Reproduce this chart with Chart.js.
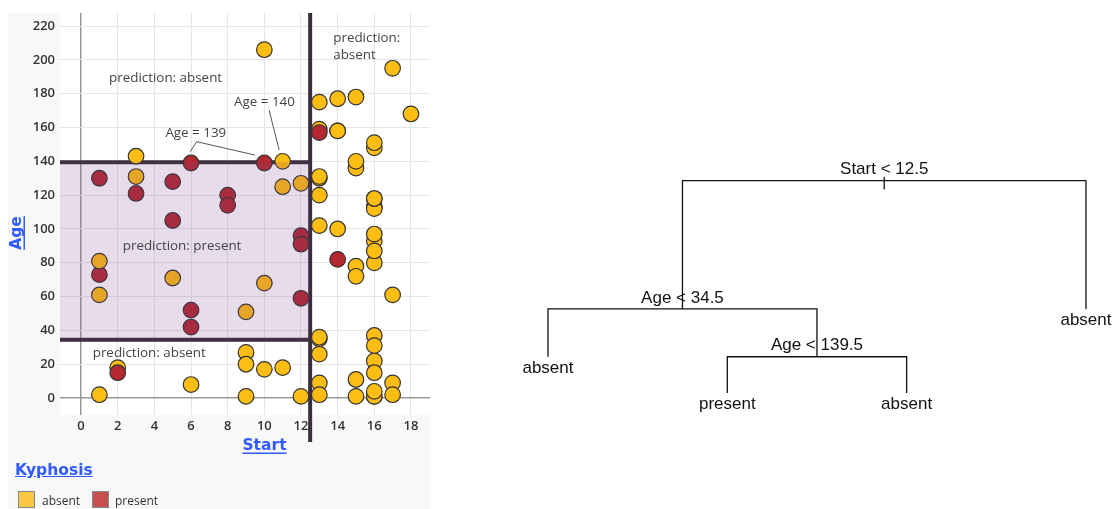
<!DOCTYPE html>
<html>
<head>
<meta charset="utf-8">
<title>Kyphosis - classification tree</title>
<script src="https://cdn.jsdelivr.net/npm/chart.js@4.4.1/dist/chart.umd.min.js"></script>
<style>
  body { margin: 0; background: #fff; }
  #page { position: relative; width: 1117px; height: 509px; overflow: hidden; }
  #panel { position: absolute; left: 8px; top: 13px; width: 422px; height: 496px; background: #f8f8f8; }
  #scatterBox { position: absolute; left: 0; top: 0; width: 422px; height: 450px; }
  #treeBox { position: absolute; left: 440px; top: 0; width: 677px; height: 509px; }
  .legend-title { position: absolute; left: 7px; top: 448px; line-height: 18px; font: bold 15.5px "DejaVu Sans", sans-serif; color: #2f5bff; text-decoration: underline; }
  .swatch { position: absolute; top: 478px; width: 15px; height: 15px; border: 1px solid #7d8a96; }
  .legend-text { position: absolute; top: 479px; line-height: 14px; font: 12px "Open Sans", sans-serif; color: #333; }
</style>
</head>
<body>
<div id="page">
  <div id="panel">
    <div id="scatterBox"><canvas id="scatterChart"></canvas></div>
    <div class="legend-title">Kyphosis</div>
    <div class="swatch" style="left:10px; background:#fbc641;"></div>
    <div class="legend-text" style="left:34px;">absent</div>
    <div class="swatch" style="left:84px; background:#c6504f;"></div>
    <div class="legend-text" style="left:107px;">present</div>
  </div>
  <div id="treeBox"><canvas id="treeChart"></canvas></div>
</div>
<script>
// Kyphosis data: one entry per child
const kyphosis = [
  'absent', 'absent', 'present', 'absent', 'absent', 'absent', 'absent', 'absent', 'absent', 'present',
  'present', 'absent', 'absent', 'absent', 'absent', 'absent', 'absent', 'absent', 'absent', 'absent',
  'absent', 'present', 'present', 'absent', 'present', 'absent', 'absent', 'absent', 'absent', 'absent',
  'absent', 'absent', 'absent', 'absent', 'absent', 'absent', 'absent', 'present', 'absent', 'present',
  'present', 'absent', 'absent', 'absent', 'absent', 'present', 'absent', 'absent', 'present', 'absent',
  'absent', 'absent', 'present', 'absent', 'absent', 'absent', 'absent', 'present', 'absent', 'absent',
  'present', 'present', 'absent', 'absent', 'absent', 'absent', 'absent', 'absent', 'absent', 'absent',
  'absent', 'absent', 'absent', 'absent', 'absent', 'absent', 'present', 'absent', 'absent', 'present',
  'absent'
];
const age = [
  71, 158, 128, 2, 1, 1, 61, 37, 113, 59,
  82, 148, 18, 1, 168, 1, 78, 175, 80, 27,
  22, 105, 96, 131, 15, 9, 8, 100, 4, 151,
  31, 125, 130, 112, 140, 93, 1, 52, 20, 91,
  73, 35, 143, 61, 97, 139, 136, 131, 121, 177,
  68, 9, 139, 2, 140, 72, 2, 120, 51, 102,
  130, 114, 81, 118, 118, 17, 195, 159, 18, 15,
  158, 127, 87, 206, 11, 178, 157, 26, 120, 42,
  36
];
const start = [
  5, 14, 5, 1, 15, 16, 17, 16, 16, 12,
  14, 16, 2, 12, 18, 16, 15, 13, 16, 9,
  16, 5, 12, 3, 2, 13, 6, 14, 16, 16,
  16, 11, 13, 16, 11, 16, 9, 6, 9, 12,
  1, 13, 3, 1, 16, 10, 15, 13, 3, 14,
  10, 17, 6, 17, 15, 15, 13, 8, 9, 13,
  1, 8, 1, 16, 16, 10, 17, 13, 11, 16,
  14, 12, 16, 10, 15, 15, 13, 13, 13, 6,
  13
];

// Axis ticks
const startTicks = [0, 2, 4, 6, 8, 10, 12, 14, 16, 18];
const ageTicks = [0, 20, 40, 60, 80, 100, 120, 140, 160, 180, 200, 220];

// Tree splits
const startSplit = 12.5;
const ageSplits = [34.5, 139.5];

// Fitted tree (rpart node ids: children of n are 2n and 2n+1)
const treeNodes = [1, 2, 3, 4, 5, 10, 11];
const treeLabels = ['Start < 12.5', 'Age < 34.5', 'absent', 'absent', 'Age < 139.5', 'present', 'absent'];
const treeHeights = [1, 0.396, 0.396, 0.171, 0.171, 0, 0];

const gold = '#fdbd13';
const red = '#b3292f';
const tickFont = { family: 'Open Sans', size: 13, weight: '600' };
const noPadding = () => ({ left: 0, top: 0, right: 0, bottom: 0 });

// Scatter plot ---------------------------------------------------------

const notes = [
  { text: 'prediction: absent', x: 4.61, y: 189, align: 'center' },
  { text: 'Age = 140', x: 10.01, y: 175.2, align: 'center' },
  { text: 'Age = 139', x: 6.26, y: 156.5, align: 'center' },
  { text: 'prediction:', x: 13.76, y: 212.7, align: 'left' },
  { text: 'absent', x: 13.76, y: 202.8, align: 'left' },
  { text: 'prediction: present', x: 5.51, y: 89.6, align: 'center' },
  { text: 'prediction: absent', x: 3.72, y: 26.4, align: 'center' }
];
const leaders = [
  [[10.26, 170.3], [10.81, 146.6]],
  [[5.95, 145.7], [6.31, 151.6], [9.49, 143.7]]
];

function underlined(ctx, text, x, y) {
  const w = ctx.measureText(text).width;
  ctx.fillText(text, x, y);
  ctx.fillRect(x - w / 2, y + 7, w, 1.5);
}

const regionPlugin = {
  id: 'regions',
  beforeDraw(chart) {
    const { ctx, chartArea: a } = chart;
    ctx.save();
    ctx.fillStyle = '#fff';
    ctx.fillRect(a.left, a.top, a.width, a.height);
    ctx.restore();
  },
  beforeDatasetsDraw(chart) {
    const { ctx, chartArea: a, scales: { x, y } } = chart;
    const xs = x.getPixelForValue(startSplit);
    ctx.save();
    ctx.strokeStyle = '#3a2d3c';
    ctx.lineWidth = 4;
    ctx.beginPath();
    ctx.moveTo(xs, a.top);
    ctx.lineTo(xs, a.bottom + 27);
    ageSplits.forEach(v => {
      const yp = y.getPixelForValue(v);
      ctx.moveTo(a.left, yp);
      ctx.lineTo(xs + 2, yp);
    });
    ctx.stroke();
    ctx.restore();
  },
  afterDatasetsDraw(chart) {
    const { ctx, chartArea: a, scales: { x, y } } = chart;
    const xs = x.getPixelForValue(startSplit);
    const y1 = y.getPixelForValue(ageSplits[1]);
    const y0 = y.getPixelForValue(ageSplits[0]);
    ctx.save();
    // predicted "present" region
    ctx.fillStyle = 'rgba(120, 60, 140, 0.18)';
    ctx.fillRect(a.left, y1, xs - a.left, y0 - y1);

    // leader lines
    ctx.strokeStyle = '#555';
    ctx.lineWidth = 1;
    leaders.forEach(pts => {
      ctx.beginPath();
      pts.forEach(([px, py], i) => {
        const X = x.getPixelForValue(px), Y = y.getPixelForValue(py);
        i ? ctx.lineTo(X, Y) : ctx.moveTo(X, Y);
      });
      ctx.stroke();
    });

    // notes
    ctx.fillStyle = '#444';
    ctx.font = '13.4px "Open Sans"';
    ctx.textBaseline = 'middle';
    notes.forEach(n => {
      ctx.textAlign = n.align;
      ctx.fillText(n.text, x.getPixelForValue(n.x), y.getPixelForValue(n.y));
    });

    // axis titles
    ctx.fillStyle = '#2f5bff';
    ctx.font = 'bold 15.5px "DejaVu Sans"';
    ctx.textAlign = 'center';
    underlined(ctx, 'Start', a.left + 204.5, a.bottom + 30.5);
    ctx.translate(a.left - 43.5, a.top + 220);
    ctx.rotate(-Math.PI / 2);
    underlined(ctx, 'Age', 0, 0);
    ctx.restore();
  }
};

new Chart(document.getElementById('scatterChart'), {
  type: 'scatter',
  data: {
    datasets: [{
      data: start.map((s, i) => ({ x: s, y: age[i] })),
      pointBackgroundColor: ctx => kyphosis[ctx.dataIndex] === 'present' ? red : gold,
      pointBorderColor: '#333',
      pointBorderWidth: 1.2,
      pointRadius: 7.8,
      pointHoverRadius: 7.8
    }]
  },
  options: {
    responsive: true,
    maintainAspectRatio: false,
    animation: false,
    layout: { padding: 0, autoPadding: false },
    plugins: { legend: { display: false }, tooltip: { enabled: false } },
    scales: {
      x: {
        type: 'linear',
        min: -1.15,
        max: 19.04,
        afterBuildTicks: s => { s.ticks = startTicks.map(v => ({ value: v })); },
        afterFit: s => {
          s.height = 48;
          s.paddingLeft = s.paddingRight = 0;
          s.getPadding = noPadding;
        },
        grid: {
          color: c => c.tick && c.tick.value === 0 ? '#999' : '#e6e6e6',
          lineWidth: c => c.tick && c.tick.value === 0 ? 1.5 : 1,
          drawTicks: false
        },
        border: { display: false },
        ticks: { padding: 3, color: '#333', font: tickFont }
      },
      y: {
        type: 'linear',
        min: -10,
        max: 227.7,
        afterBuildTicks: s => { s.ticks = ageTicks.map(v => ({ value: v })); },
        afterFit: s => {
          s.width = 52;
          s.paddingTop = s.paddingBottom = 0;
          s.getPadding = noPadding;
        },
        grid: {
          color: c => c.tick && c.tick.value === 0 ? '#999' : '#e6e6e6',
          lineWidth: c => c.tick && c.tick.value === 0 ? 1.5 : 1,
          drawTicks: false
        },
        border: { display: false },
        ticks: { padding: 5, color: '#333', font: tickFont }
      }
    }
  },
  plugins: [regionPlugin]
});

// Decision tree --------------------------------------------------------

const nodeX = {};
const nodeY = {};
treeNodes.forEach((id, i) => { nodeY[id] = treeHeights[i]; });
let leafCount = 0;
function placeNode(id) {
  const l = id * 2, r = id * 2 + 1;
  if (!treeNodes.includes(l)) {
    nodeX[id] = ++leafCount;
    return;
  }
  placeNode(l);
  placeNode(r);
  nodeX[id] = (nodeX[l] + nodeX[r]) / 2;
}
placeNode(1);

const branchSets = [];
treeNodes.forEach(id => {
  const l = id * 2, r = id * 2 + 1;
  if (!treeNodes.includes(l)) return;
  branchSets.push({
    data: [
      { x: nodeX[l], y: nodeY[l] },
      { x: nodeX[l], y: nodeY[id] },
      { x: nodeX[r], y: nodeY[id] },
      { x: nodeX[r], y: nodeY[r] }
    ]
  });
});
// little stem through the root
branchSets.push({ data: [{ x: nodeX[1], y: nodeY[1] + 0.019 }, { x: nodeX[1], y: nodeY[1] - 0.041 }] });

const treeLabelPlugin = {
  id: 'treeLabels',
  afterDatasetsDraw(chart) {
    const { ctx, scales: { x, y } } = chart;
    ctx.save();
    ctx.fillStyle = '#111';
    ctx.font = '17px "Liberation Sans"';
    ctx.textAlign = 'center';
    ctx.textBaseline = 'middle';
    treeNodes.forEach((id, i) => {
      const leaf = !treeNodes.includes(id * 2);
      const px = x.getPixelForValue(nodeX[id]);
      const py = y.getPixelForValue(nodeY[id]);
      ctx.fillText(treeLabels[i], px, leaf ? py + 11.5 : py - 11);
    });
    ctx.restore();
  }
};

new Chart(document.getElementById('treeChart'), {
  type: 'scatter',
  data: {
    datasets: branchSets.map(d => Object.assign(d, {
      showLine: true,
      borderColor: '#111',
      borderWidth: 1.3,
      pointRadius: 0,
      pointHoverRadius: 0
    }))
  },
  options: {
    responsive: true,
    maintainAspectRatio: false,
    animation: false,
    layout: { padding: 0, autoPadding: false },
    plugins: { legend: { display: false }, tooltip: { enabled: false } },
    scales: {
      x: { type: 'linear', display: false, min: 0.398, max: 4.173 },
      y: { type: 'linear', display: false, min: -0.546, max: 1.851 }
    }
  },
  plugins: [treeLabelPlugin]
});
</script>
</body>
</html>
